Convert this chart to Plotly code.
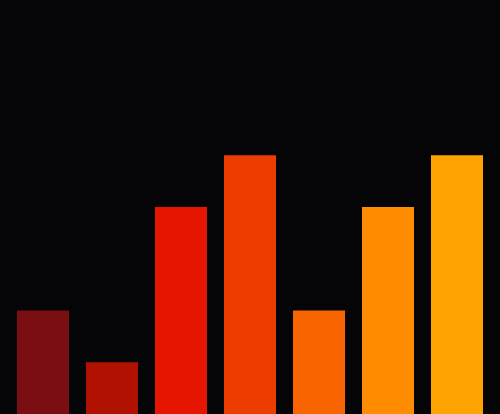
import plotly.graph_objects as go

# bar data
categories = ['A', 'B', 'C', 'D', 'E', 'F', 'G']
values = [2, 1, 4, 5, 2, 4, 5]
colors = ['#7a0e12', '#b01100', '#e61500', '#ec3c00', '#f86400', '#ff8c00', '#ffa300']

fig = go.Figure(go.Bar(x=categories, y=values, marker=dict(color=colors, line=dict(width=0))))

fig.update_layout(
    width=500, height=414,
    margin=dict(l=0, r=0, t=0, b=0),
    paper_bgcolor='#050507', plot_bgcolor='#050507',
    bargap=0.246,
    showlegend=False,
    xaxis=dict(visible=False, range=[-0.623, 6.623]),
    yaxis=dict(visible=False, range=[0, 8]),
)

# drop the browser's default page margin so the chart sits at the corner
fig.write_html("out.html", config={'displayModeBar': False},
               post_script="document.body.style.margin='0';document.body.style.background='#050507';")
